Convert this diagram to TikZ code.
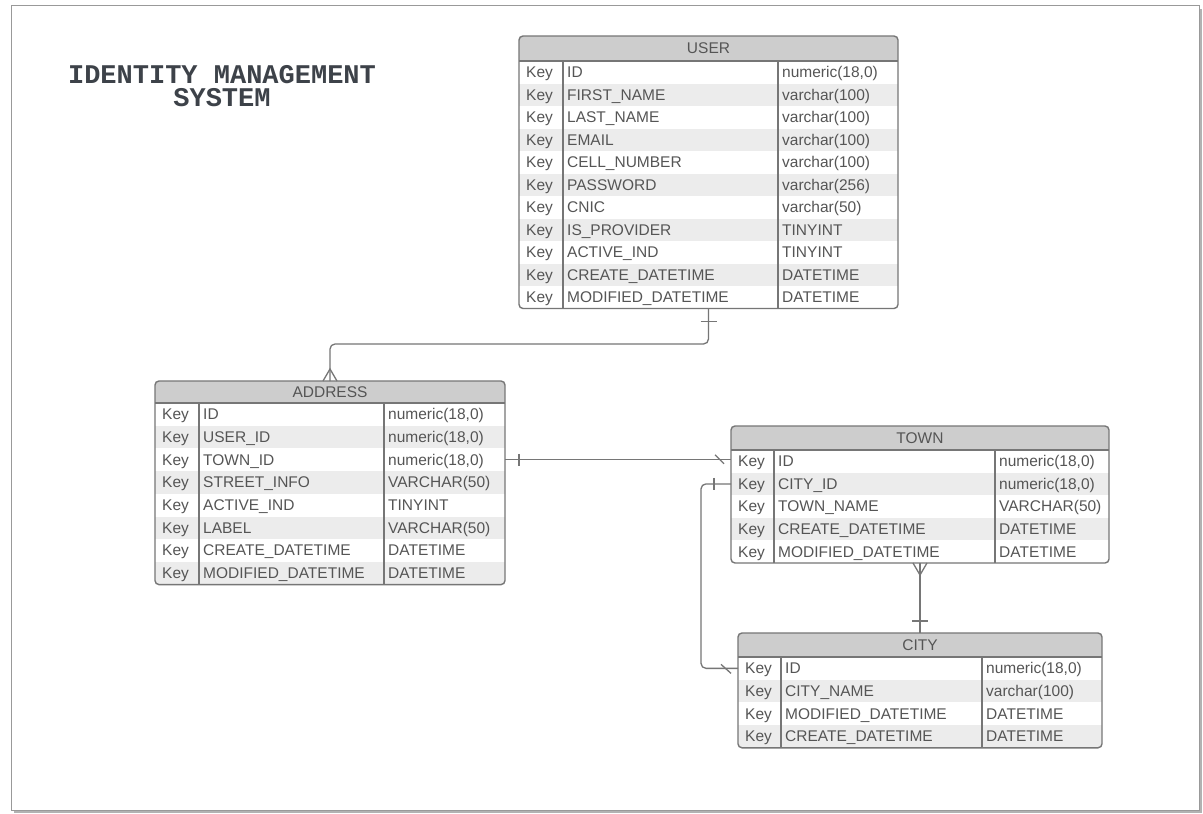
\documentclass[tikz,border=0pt]{standalone}
\usepackage{fontspec}
\setmainfont{Liberation Sans}
\newfontfamily\titlefont{Liberation Mono}
\usetikzlibrary{calc}

\definecolor{erline}{HTML}{767676}
\definecolor{erhead}{HTML}{CDCDCD}
\definecolor{erstripe}{HTML}{ECECEC}
\definecolor{ertext}{HTML}{555555}
\definecolor{titlecol}{HTML}{3D4249}

\tikzset{
  cell/.style={anchor=base west, inner sep=0pt, text=ertext, font=\fontsize{15.5}{18}\selectfont},
  headtext/.style={anchor=base, inner sep=0pt, text=ertext, font=\fontsize{15.5}{18}\selectfont},
  titletext/.style={anchor=base, inner sep=0pt, text=titlecol, font=\titlefont\bfseries\fontsize{27}{30}\selectfont},
  tline/.style={draw=erline, line width=1.2pt},
  tborder/.style={draw=erline, line width=1.4pt, rounded corners=4pt, inner sep=0pt, outer sep=0pt},
  conn/.style={draw=erline, line width=1.3pt},
}

\newcommand\numt{numeric(18,0)}

% \erdraw{name}{left}{top}{right}{header bottom}{row height}{col 1}{col 2}{title}
% rows are taken from \errows as field/type pairs
\newcommand\erdraw[9]{%
  \foreach \r [count=\n] in \errows {\xdef\ernum{\n}}%
  \pgfmathsetmacro\erB{#5+\ernum*#6}%
  \begin{scope}
    \clip[rounded corners=4pt] (#2,#3) rectangle (#4,\erB);
    \fill[erhead] (#2,#3) rectangle (#4,#5);
    \foreach \f/\t [count=\i] in \errows {%
      \pgfmathsetmacro\ya{#5+(\i-1)*#6}%
      \pgfmathsetmacro\yb{#5+\i*#6}%
      \ifodd\i\relax\else\fill[erstripe] (#2,\ya) rectangle (#4,\yb);\fi
    }
  \end{scope}
  \draw[tline] (#2,#5) -- (#4,#5) (#7,#5) -- (#7,\erB) (#8,#5) -- (#8,\erB);
  \node[headtext] (#1-head) at ({(#2+#4)/2},{(#3+#5)/2+5.3}) {#9};
  \foreach \f/\t [count=\i] in \errows {%
    \pgfmathsetmacro\yc{#5+(\i-0.5)*#6}%
    \coordinate (#1-L\i) at (#2,\yc);
    \coordinate (#1-R\i) at (#4,\yc);
    \node[cell] (#1-k\i) at (#2+7,\yc+5.3) {Key};
    \node[cell] (#1-f\i) at (#7+4,\yc+5.3) {\f};
    \node[cell] (#1-t\i) at (#8+4,\yc+5.3) {\t};
  }
  \node[tborder, minimum width=#4-#2, minimum height=\erB-#3, anchor=north west] (#1) at (#2,#3) {};
}

\begin{document}
\begin{tikzpicture}[x=1pt,y=-1pt]
  \useasboundingbox (0,0) rectangle (1203,814);

  % page frame with a drop shadow
  \fill[black!30] (14,9) rectangle (1202,813);
  \filldraw[fill=white, draw=black!40, line width=0.8pt] (11,5) rectangle (1199,810);

  % title
  \node[titletext] (title1) at (222,83) {IDENTITY MANAGEMENT};
  \node[titletext] (title2) at (222,106) {SYSTEM};

  % USER
  \def\errows{ID/\numt, FIRST\_NAME/varchar(100), LAST\_NAME/varchar(100),
    EMAIL/varchar(100), CELL\_NUMBER/varchar(100), PASSWORD/varchar(256),
    CNIC/varchar(50), IS\_PROVIDER/TINYINT, ACTIVE\_IND/TINYINT,
    CREATE\_DATETIME/DATETIME, MODIFIED\_DATETIME/DATETIME}
  \erdraw{user}{519}{36}{898}{61}{22.5}{563}{778}{USER}

  % ADDRESS
  \def\errows{ID/\numt, USER\_ID/\numt, TOWN\_ID/\numt, STREET\_INFO/VARCHAR(50),
    ACTIVE\_IND/TINYINT, LABEL/VARCHAR(50), CREATE\_DATETIME/DATETIME,
    MODIFIED\_DATETIME/DATETIME}
  \erdraw{address}{155}{381}{505}{403}{22.7}{199}{384}{ADDRESS}

  % TOWN
  \def\errows{ID/\numt, CITY\_ID/\numt, TOWN\_NAME/VARCHAR(50),
    CREATE\_DATETIME/DATETIME, MODIFIED\_DATETIME/DATETIME}
  \erdraw{town}{731}{426}{1109}{450}{22.6}{774}{995}{TOWN}

  % CITY
  \def\errows{ID/\numt, CITY\_NAME/varchar(100), MODIFIED\_DATETIME/DATETIME,
    CREATE\_DATETIME/DATETIME}
  \erdraw{city}{738}{633}{1102}{657}{22.7}{781}{982}{CITY}

  % USER (one) -- ADDRESS (many)
  \coordinate (ua) at (520,344);
  \draw[conn, rounded corners=5pt] (user.south) |- (ua) -| (address.north);
  \draw[conn] ($(user.south)+(-8,13)$) -- ($(user.south)+(8,13)$);
  \draw[conn] ($(address.north)+(-7,0)$) -- ($(address.north)+(0,-12)$) -- ($(address.north)+(7,0)$);

  % ADDRESS.TOWN_ID -- TOWN.ID
  \coordinate (tz) at (address-R3 -| town-L1);
  \draw[conn] (address-R3) -- (tz);
  \draw[conn] ($(address-R3)+(14,-6)$) -- ($(address-R3)+(14,6)$);
  \draw[conn] ($(tz)+(-16,-5)$) -- ($(tz)+(-7,4)$);

  % TOWN.CITY_ID -- CITY.ID
  \draw[conn, rounded corners=5pt] (town-L2) -- ($(town-L2)+(-30,0)$) |- (city-L1);
  \draw[conn] ($(town-L2)+(-17,-6)$) -- ($(town-L2)+(-17,6)$);
  \draw[conn] ($(city-L1)+(-17,-4)$) -- ($(city-L1)+(-7,5)$);

  % TOWN (many) -- CITY (one)
  \draw[conn] (town.south) -- (city.north);
  \draw[conn] ($(town.south)+(-7,0)$) -- ($(town.south)+(0,12)$) -- ($(town.south)+(7,0)$);
  \draw[conn] ($(city.north)+(-8,-12)$) -- ($(city.north)+(8,-12)$);
\end{tikzpicture}
\end{document}
